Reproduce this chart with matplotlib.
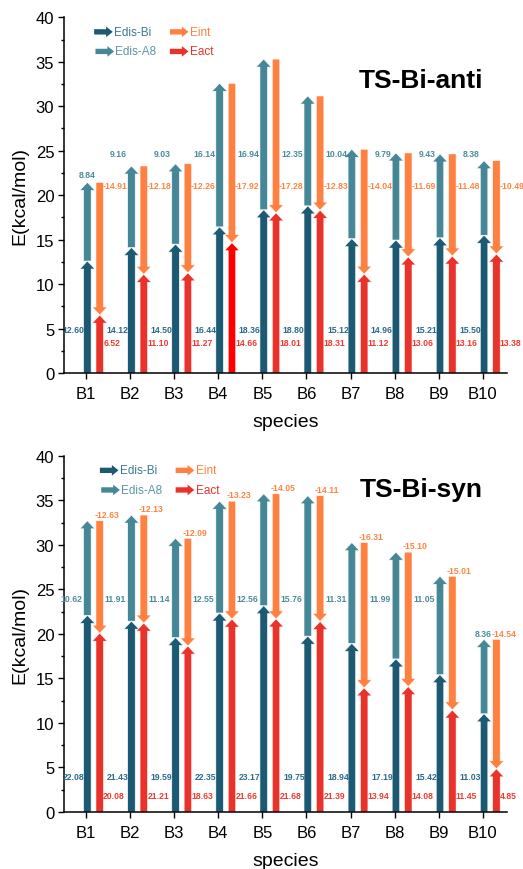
import numpy as np
import matplotlib
matplotlib.use('Agg')
import matplotlib.pyplot as plt
from matplotlib.patches import FancyArrow
from matplotlib.ticker import MultipleLocator

plt.rcParams['font.family'] = ['Liberation Sans', 'DejaVu Sans']

species = ['B1', 'B2', 'B3', 'B4', 'B5', 'B6', 'B7', 'B8', 'B9', 'B10']

# TS-Bi-anti
anti_dis_bi = [12.60, 14.12, 14.50, 16.44, 18.36, 18.80, 15.12, 14.96, 15.21, 15.50]
anti_dis_a8 = [8.84, 9.16, 9.03, 16.14, 16.94, 12.35, 10.04, 9.79, 9.43, 8.38]
anti_int = [-14.91, -12.18, -12.26, -17.92, -17.28, -12.83, -14.04, -11.69, -11.48, -10.49]
anti_act = [6.52, 11.10, 11.27, 14.66, 18.01, 18.31, 11.12, 13.06, 13.16, 13.38]

# TS-Bi-syn
syn_dis_bi = [22.08, 21.43, 19.59, 22.35, 23.17, 19.75, 18.94, 17.19, 15.42, 11.03]
syn_dis_a8 = [10.62, 11.91, 11.14, 12.55, 12.56, 15.76, 11.31, 11.99, 11.05, 8.36]
syn_int = [-12.63, -12.13, -12.09, -13.23, -14.05, -14.11, -16.31, -15.10, -15.01, -14.54]
syn_act = [20.08, 21.21, 18.63, 21.66, 21.68, 21.39, 13.94, 14.08, 11.45, 4.85]

C_BI = '#1c5a74'
C_A8 = '#468797'
C_INT = '#ff8040'
C_ACT = '#e8322a'
T_BI = '#2b6a86'
T_A8 = '#4b8b9b'
T_INT = '#ff8442'
T_ACT = '#ee3b32'


def arrow(ax, x, y0, y1, color):
    ax.add_patch(FancyArrow(x, y0, 0, y1 - y0, width=0.17, head_width=0.34,
                            head_length=0.9, length_includes_head=True,
                            facecolor=color, edgecolor='white', linewidth=0.4))


def legend_arrow(ax, x, y, color, label, tcolor):
    ax.add_patch(FancyArrow(x, y, 0.042, 0, width=0.015, head_width=0.03,
                            head_length=0.015, length_includes_head=True,
                            transform=ax.transAxes, facecolor=color,
                            edgecolor='none', clip_on=False))
    ax.text(x + 0.045, y, label, transform=ax.transAxes, color=tcolor,
            fontsize=8.5, va='center', ha='left')


def panel(ax, dis_bi, dis_a8, eint, eact, title, title_xy, syn, red_override=None):
    x = np.arange(len(species))
    xb = x + 0.03
    xr = x + 0.31
    lbl = dict(fontsize=6.2, fontweight='bold', va='center')
    for i in range(len(species)):
        top = dis_bi[i] + dis_a8[i]
        arrow(ax, xb[i], 0, dis_bi[i], C_BI)
        arrow(ax, xb[i], dis_bi[i], top, C_A8)
        arrow(ax, xr[i], top, top + eint[i], C_INT)
        rc = C_ACT
        if red_override and i in red_override:
            rc = red_override[i]
        arrow(ax, xr[i], 0, eact[i], rc)

        if syn:
            ax.text(xb[i] - 0.07, 4.0, '%.2f' % dis_bi[i], color=T_BI, ha='right', **lbl)
            ax.text(xr[i] + 0.08, 1.8, '%.2f' % eact[i], color=T_ACT, ha='left', **lbl)
            ax.text(xr[i] - 0.12, top + 0.7, '%.2f' % eint[i], color=T_INT, ha='left', **lbl)
            if top < 22:
                ax.text(xb[i] - 0.02, top + 0.6, '%.2f' % dis_a8[i], color=T_A8, ha='center', **lbl)
            else:
                ax.text(xb[i] - 0.12, 24.0, '%.2f' % dis_a8[i], color=T_A8, ha='right', **lbl)
        else:
            ax.text(xb[i] - 0.07, 4.9, '%.2f' % dis_bi[i], color=T_BI, ha='right', **lbl)
            ax.text(xr[i] + 0.08, 3.4, '%.2f' % eact[i], color=T_ACT, ha='left', **lbl)
            ax.text(xr[i] + 0.07, 21.1, '%.2f' % eint[i], color=T_INT, ha='left', **lbl)
            if top < 22.5:
                ax.text(xb[i], top + 0.9, '%.2f' % dis_a8[i], color=T_A8, ha='center', **lbl)
            else:
                ax.text(xb[i] - 0.1, 24.7, '%.2f' % dis_a8[i], color=T_A8, ha='right', **lbl)
    for t in ax.texts:
        t.set_clip_on(False)

    ax.set_xlim(-0.5, 9.55)
    ax.set_ylim(0, 40)
    ax.set_xticks(x)
    ax.set_xticklabels(species)
    ax.yaxis.set_major_locator(MultipleLocator(5))
    ax.yaxis.set_minor_locator(MultipleLocator(2.5))
    ax.tick_params(axis='both', which='major', direction='out', length=4,
                   width=1, labelsize=12, pad=3)
    ax.tick_params(axis='y', which='minor', direction='out', length=2.5, width=1)
    ax.tick_params(axis='x', pad=5)
    for s in ['top', 'right']:
        ax.spines[s].set_visible(False)
    for s in ['left', 'bottom']:
        ax.spines[s].set_linewidth(1.1)
    ax.set_xlabel('species', fontsize=14, labelpad=9)
    ax.set_ylabel('E(kcal/mol)', fontsize=14, labelpad=5)
    ax.text(title_xy[0], title_xy[1], title, fontsize=19, fontweight='bold',
            ha='center', va='center')

    lx = 0.068 if not syn else 0.081
    legend_arrow(ax, lx, 0.959, C_BI, 'Edis-Bi', '#3a7a8e')
    legend_arrow(ax, lx + 0.003, 0.904, C_A8, 'Edis-A8', '#5a96a5')
    legend_arrow(ax, lx + 0.171, 0.959, C_INT, 'Eint', C_INT)
    legend_arrow(ax, lx + 0.171, 0.904, C_ACT, 'Eact', C_ACT)


def main():
    fig = plt.figure(figsize=(5.23, 8.7), dpi=100)
    ax1 = fig.add_axes([0.1224, 0.570, 0.847, 0.409])
    ax2 = fig.add_axes([0.1224, 0.0655, 0.847, 0.4095])
    panel(ax1, anti_dis_bi, anti_dis_a8, anti_int, anti_act, 'TS-Bi-anti',
          (7.6, 33.0), False, red_override={3: '#ff0000'})
    panel(ax2, syn_dis_bi, syn_dis_a8, syn_int, syn_act, 'TS-Bi-syn',
          (7.6, 36.3), True)
    plt.savefig('out.png', dpi=100)


if __name__ == '__main__':
    main()
